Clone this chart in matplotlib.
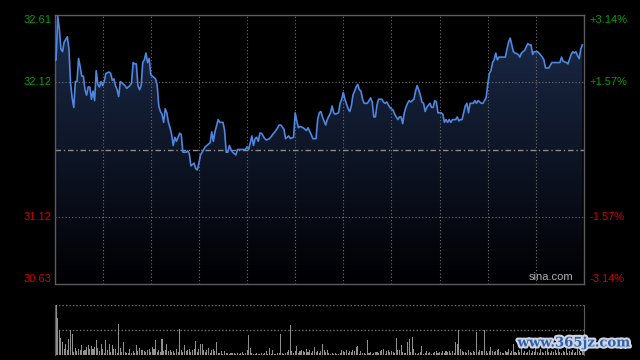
import matplotlib
matplotlib.use('Agg')
import matplotlib.pyplot as plt
import matplotlib.patheffects as pe
from matplotlib.patches import Polygon
import numpy as np

# previous close and the +-3.14% range shown on the axes
prev_close = 31.62
y_low, y_high = 30.63, 32.61
left_labels = ['32.61', '32.12', '31.12', '30.63']
right_labels = ['+3.14%', '+1.57%', '-1.57%', '-3.14%']
label_prices = [32.61, 32.12, 31.12, 30.63]

# intraday trace (minutes from open, price)
minutes = [0, 1, 2, 3, 4, 5, 6, 8, 9, 10, 11, 12, 13, 14, 15, 16, 17, 18, 19, 20,
           21, 22, 23, 24, 25, 26, 27, 28, 29, 30, 31, 32, 34, 35, 36, 37, 38, 39, 40, 41,
           42, 44, 45, 47, 48, 49, 50, 51, 52, 53, 54, 55, 56, 57, 58, 59, 60, 61, 63, 64,
           65, 66, 67, 68, 69, 70, 71, 72, 73, 74, 75, 76, 77, 78, 79, 80, 82, 83, 84, 85,
           87, 88, 89, 90, 91, 93, 94, 95, 97, 98, 99, 100, 102, 103, 105, 106, 107, 108, 109, 110,
           111, 113, 114, 117, 119, 120, 121, 122, 123, 124, 125, 126, 127, 128, 129, 131, 132, 134, 136, 138,
           140, 141, 143, 144, 146, 147, 149, 150, 151, 152, 153, 155, 157, 158, 160, 161, 163, 164, 165, 166,
           167, 169, 170, 172, 173, 174, 175, 177, 178, 179, 180, 181, 183, 184, 185, 186, 188, 189, 190, 191,
           192, 193, 195, 197, 198, 199, 200, 201, 202, 204, 205, 206, 207, 208, 209, 211, 212, 214, 215, 216,
           217, 218, 219, 220, 221, 222, 224, 225, 226, 227, 228, 229, 230, 231, 232, 234, 235, 236, 237, 238,
           239, 241, 242, 243, 244, 245, 246, 247, 248, 250, 251, 252, 253, 254, 256, 257, 258, 259, 261, 262,
           263, 264, 266, 267, 268, 269, 270, 271, 272, 273, 274, 275, 276, 277, 279, 281, 282, 283, 284, 285,
           286, 287, 289, 290, 291, 292, 293, 295, 296, 297, 298, 299, 301, 302, 304, 305, 306, 308, 310, 311,
           314, 315, 316, 317, 319, 320, 322, 323, 324, 325, 326, 327, 328, 329]
prices = [32.27, 32.28, 32.60, 32.51, 32.36, 32.34, 32.41, 32.45, 32.36, 32.11, 32.00, 31.93, 32.12, 32.12, 32.29, 32.23, 32.16, 32.16, 32.06, 32.02,
          32.08, 32.08, 31.99, 32.05, 31.98, 32.20, 32.10, 32.08, 32.12, 32.09, 32.12, 32.18, 32.19, 32.18, 32.13, 32.14, 32.09, 32.06, 32.01, 32.12,
          32.11, 32.09, 32.07, 32.09, 32.11, 32.26, 32.25, 32.25, 32.09, 32.06, 32.09, 32.26, 32.28, 32.33, 32.26, 32.29, 32.17, 32.16, 32.14, 32.09,
          31.94, 31.90, 31.88, 31.82, 31.92, 31.89, 31.82, 31.78, 31.73, 31.65, 31.71, 31.68, 31.71, 31.74, 31.73, 31.60, 31.60, 31.61, 31.59, 31.50,
          31.52, 31.48, 31.47, 31.52, 31.58, 31.62, 31.64, 31.65, 31.67, 31.75, 31.68, 31.75, 31.84, 31.82, 31.82, 31.76, 31.60, 31.60, 31.65, 31.62,
          31.60, 31.58, 31.62, 31.62, 31.62, 31.64, 31.62, 31.67, 31.72, 31.65, 31.70, 31.71, 31.68, 31.74, 31.74, 31.70, 31.69, 31.70, 31.73, 31.76,
          31.80, 31.80, 31.77, 31.70, 31.72, 31.70, 31.71, 31.89, 31.83, 31.78, 31.79, 31.78, 31.76, 31.78, 31.73, 31.70, 31.70, 31.84, 31.89, 31.90,
          31.86, 31.80, 31.84, 31.89, 31.94, 31.89, 31.88, 31.89, 31.96, 31.99, 32.04, 31.99, 31.92, 31.90, 31.94, 32.02, 32.08, 32.10, 32.06, 32.05,
          31.99, 31.96, 31.96, 32.00, 31.97, 31.86, 31.86, 31.95, 31.99, 31.99, 31.97, 31.96, 31.97, 31.95, 31.93, 31.91, 31.88, 31.84, 31.86, 31.86,
          31.81, 31.89, 31.93, 31.96, 31.98, 31.97, 31.99, 32.05, 32.09, 32.06, 32.02, 31.97, 31.96, 31.90, 31.93, 31.96, 31.93, 31.93, 31.98, 31.97,
          31.89, 31.89, 31.88, 31.82, 31.84, 31.82, 31.84, 31.82, 31.84, 31.84, 31.86, 31.83, 31.84, 31.84, 31.94, 31.96, 31.89, 31.96, 31.96, 31.98,
          31.96, 31.98, 31.96, 31.96, 31.98, 32.00, 32.10, 32.18, 32.20, 32.26, 32.28, 32.33, 32.28, 32.30, 32.30, 32.30, 32.36, 32.41, 32.44, 32.39,
          32.34, 32.33, 32.32, 32.30, 32.33, 32.34, 32.35, 32.40, 32.39, 32.39, 32.32, 32.34, 32.34, 32.33, 32.30, 32.28, 32.22, 32.22, 32.26, 32.26,
          32.26, 32.26, 32.30, 32.27, 32.26, 32.25, 32.32, 32.34, 32.33, 32.34, 32.31, 32.29, 32.36, 32.39]

# volume per minute (relative, 100 = top of panel)
volume = [85, 100, 75, 51, 35, 26, 13, 22, 10, 33,
          51, 43, 7, 15, 9, 13, 10, 20, 9, 10,
          17, 20, 13, 18, 13, 17, 31, 15, 9, 23,
          12, 5, 30, 10, 22, 7, 20, 12, 12, 5,
          62, 15, 6, 26, 6, 5, 5, 13, 5, 8,
          5, 21, 8, 15, 10, 10, 9, 7, 10, 13,
          7, 17, 13, 30, 7, 10, 7, 33, 8, 10,
          23, 9, 11, 7, 9, 5, 12, 7, 53, 11,
          7, 20, 9, 11, 13, 7, 10, 13, 28, 7,
          13, 23, 23, 10, 7, 10, 15, 5, 10, 13,
          9, 26, 5, 4, 8, 3, 8, 4, 5, 3,
          5, 5, 4, 3, 5, 3, 5, 6, 3, 5,
          11, 40, 15, 5, 3, 3, 4, 3, 3, 4,
          3, 5, 8, 3, 15, 3, 10, 3, 3, 5,
          4, 42, 5, 3, 5, 7, 10, 60, 8, 5,
          9, 18, 5, 8, 10, 9, 7, 13, 7, 10,
          5, 8, 17, 7, 9, 5, 9, 22, 11, 7,
          10, 5, 3, 5, 3, 4, 3, 3, 5, 10,
          9, 7, 10, 5, 9, 7, 10, 9, 17, 18,
          3, 9, 5, 5, 3, 30, 5, 7, 3, 5,
          7, 7, 5, 9, 10, 13, 3, 9, 10, 7,
          9, 7, 5, 35, 11, 10, 20, 7, 5, 5,
          27, 33, 7, 37, 13, 5, 3, 4, 7, 19,
          3, 5, 8, 5, 7, 3, 5, 7, 8, 5,
          7, 5, 9, 5, 8, 7, 9, 5, 9, 5,
          27, 22, 50, 13, 9, 7, 7, 5, 10, 7,
          5, 8, 7, 47, 7, 10, 8, 8, 50, 9,
          5, 8, 17, 9, 7, 8, 10, 13, 6, 4,
          5, 9, 6, 12, 5, 8, 22, 7, 5, 10,
          6, 14, 5, 8, 4, 7, 11, 5, 9, 6,
          18, 7, 5, 12, 6, 4, 9, 15, 7, 5,
          8, 6, 10, 5, 13, 7, 4, 9, 6, 16,
          5, 8, 7, 11, 5, 6, 27, 8, 5, 9,
          6]

GREEN = '#00a000'
RED = '#d00000'
GRID = '#707070'
EDGE = '#5c5c5c'

fig = plt.figure(figsize=(6.4, 3.6), dpi=100, facecolor='black')

# ---- price panel
ax = fig.add_axes([54.5 / 640, 1 - 284 / 360, 529.5 / 640, 269 / 360])
ax.set_facecolor('black')
ax.set_xlim(0, 330)
ax.set_ylim(y_low, y_high)
ax.set_xticks([])
ax.set_yticks([])
for s in ax.spines.values():
    s.set_color(EDGE)
    s.set_linewidth(1)

# gradient fill under the line
t = np.linspace(0, 1, 256).reshape(-1, 1)
top_c = np.array([0.11, 0.17, 0.29])
bot_c = np.array([0.0, 0.0, 0.01])
grad = (top_c * (1 - t) + bot_c * t)[:, None, :]
im = ax.imshow(grad, extent=[0, 330, y_low, y_high], aspect='auto',
               origin='upper', zorder=1)
verts = list(zip(minutes, prices)) + [(minutes[-1], y_low), (minutes[0], y_low)]
clip = Polygon(verts, closed=True, facecolor='none', edgecolor='none',
               transform=ax.transData)
ax.add_patch(clip)
im.set_clip_path(clip)

# grid
for k in range(1, 11):
    ax.axvline(k * 30, color=GRID, lw=0.8, ls=(0, (1, 2)), zorder=2)
for p in [prev_close * 1.0157, prev_close * (1 - 0.0157)]:
    ax.axhline(p, color=GRID, lw=0.8, ls=(0, (1, 2)), zorder=2)
ax.axhline(prev_close, color='#8a8a8a', lw=1, ls=(0, (4, 2, 1, 2)), zorder=2)

ax.plot(minutes, prices, color='#4f86e0', lw=1.2, zorder=3)

# axis labels
vas = ['top', 'center', 'center', 'bottom']
for lab_l, lab_r, p, va in zip(left_labels, right_labels, label_prices, vas):
    col = GREEN if p > prev_close else RED
    ax.text(-0.006, p, lab_l, transform=ax.get_yaxis_transform(), ha='right',
            va=va, color=col, fontsize=8, family='Liberation Sans')
    ax.text(1.011, p, lab_r, transform=ax.get_yaxis_transform(), ha='left',
            va=va, color=col, fontsize=8, family='Liberation Sans')

ax.text(0.979, 0.008, 'sina.com', transform=ax.transAxes, ha='right', va='bottom',
        color='#b0b0b0', fontsize=8, family='Liberation Sans', zorder=4)

# ---- volume panel
vax = fig.add_axes([54.5 / 640, 5 / 360, 529.5 / 640, 50 / 360])
vax.set_facecolor('black')
vax.set_xlim(0, 330)
vax.set_ylim(0, 100)
vax.set_xticks([])
vax.set_yticks([])
vax.spines['top'].set_visible(False)
vax.spines['bottom'].set_visible(False)
vax.spines['left'].set_color(EDGE)
vax.spines['right'].set_color(EDGE)
for h in [0, 50, 100]:
    vax.axhline(h, color=GRID, lw=1, ls=(0, (1, 1.5)), zorder=1)
vax.bar(np.arange(len(volume)), volume, width=0.65, color='#909090', zorder=2)

# watermark
fig.text(574 / 640, 1 - 343 / 360, 'www.365jz.com', ha='center', va='center',
         color='#2f5fb0', fontsize=9.5, fontweight='bold', family='DejaVu Serif',
         path_effects=[pe.withStroke(linewidth=3, foreground='#cfd6e0')])

fig.savefig('out.png', dpi=100, facecolor='black')
